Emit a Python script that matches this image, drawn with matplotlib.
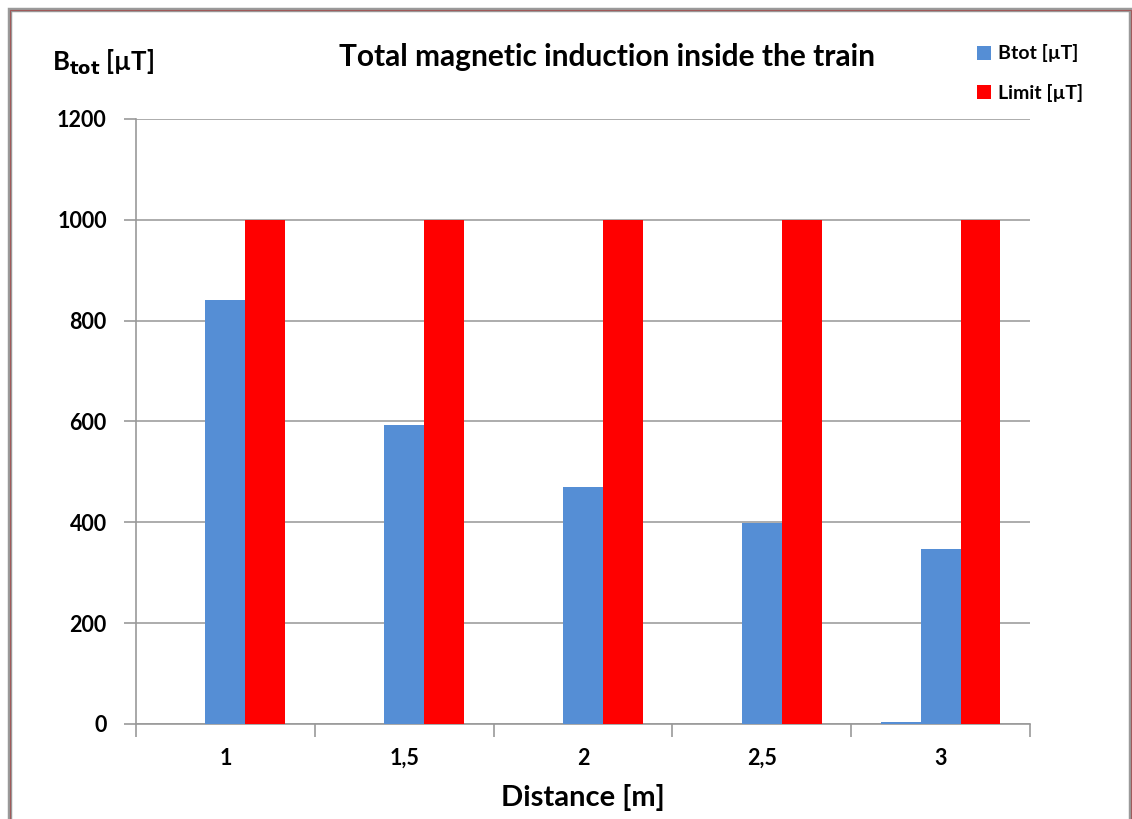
import numpy as np
import matplotlib.pyplot as plt
from matplotlib.patches import Rectangle

plt.rcParams['font.family'] = ['Lato', 'DejaVu Sans']

distances = ['1', '1,5', '2', '2,5', '3']
btot = [840, 593, 470, 399, 347]
limit = [1000, 1000, 1000, 1000, 1000]
# small leftover value in front of the last group
stray = [0, 0, 0, 0, 3]

blue = '#558ed5'
red = '#ff0000'

fig = plt.figure(figsize=(11.32, 8.19), dpi=100)
ax = fig.add_axes([136 / 1132, 1 - 724 / 819, (1030 - 136) / 1132, (724 - 119) / 819])

x = np.arange(len(distances))
w = 0.223
ax.bar(x - w, stray, w, color=blue, zorder=3)
ax.bar(x, btot, w, color=blue, label='Btot [\u00b5T]', zorder=3)
ax.bar(x + w, limit, w, color=red, label='Limit [\u00b5T]', zorder=3)

ax.set_xlim(-0.5, len(distances) - 0.5)
ax.set_ylim(0, 1200)
ax.set_yticks(range(0, 1201, 200))
ax.set_xticks(x)
ax.set_xticklabels(distances)
ax.set_xticks(np.arange(-0.5, len(distances)), minor=True)
ax.tick_params(axis='x', which='major', length=0, pad=17)
ax.tick_params(axis='x', which='minor', length=9, color='#999999', width=1.2)
ax.tick_params(axis='y', length=9, color='#999999', width=1.2, pad=12)
for lab in ax.get_xticklabels() + ax.get_yticklabels():
    lab.set_fontsize(15.5)
    lab.set_fontweight('bold')

ax.grid(axis='y', color='#a6a6a6', linewidth=1.3, zorder=0)
for s in ['top', 'right']:
    ax.spines[s].set_visible(False)
for s in ['left', 'bottom']:
    ax.spines[s].set_color('#999999')
    ax.spines[s].set_linewidth(1.2)

ax.set_xlabel('Distance [m]', fontsize=21, fontweight='bold', labelpad=11)
fig.text(607 / 1132, 1 - 57 / 819, 'Total magnetic induction inside the train',
         fontsize=21.5, fontweight='bold', ha='center', va='center')
fig.text(52 / 1132, 1 - 62 / 819, 'B$_{\\mathbf{tot}}$ [\u00b5T]',
         fontsize=18.5, fontweight='bold', ha='left', va='center')

ax.legend(loc='upper left', bbox_to_anchor=(959 / 1132, 1 - 27 / 819),
          bbox_transform=fig.transFigure, frameon=False,
          handlelength=0.75, handleheight=0.75, handletextpad=0.35, labelspacing=1.1,
          prop={'weight': 'bold', 'size': 14})

# outer frame
fig.patches.append(Rectangle((10 / 1132, -10 / 819), 1121 / 1132, 819 / 819,
                             transform=fig.transFigure, fill=False,
                             edgecolor='#9a9a9a', linewidth=3.2))
fig.patches.append(Rectangle((10 / 1132, -10 / 819), 1121 / 1132, 819 / 819,
                             transform=fig.transFigure, fill=False,
                             edgecolor='#a05a5a', linewidth=0.8))

fig.savefig('out.png', dpi=100)
